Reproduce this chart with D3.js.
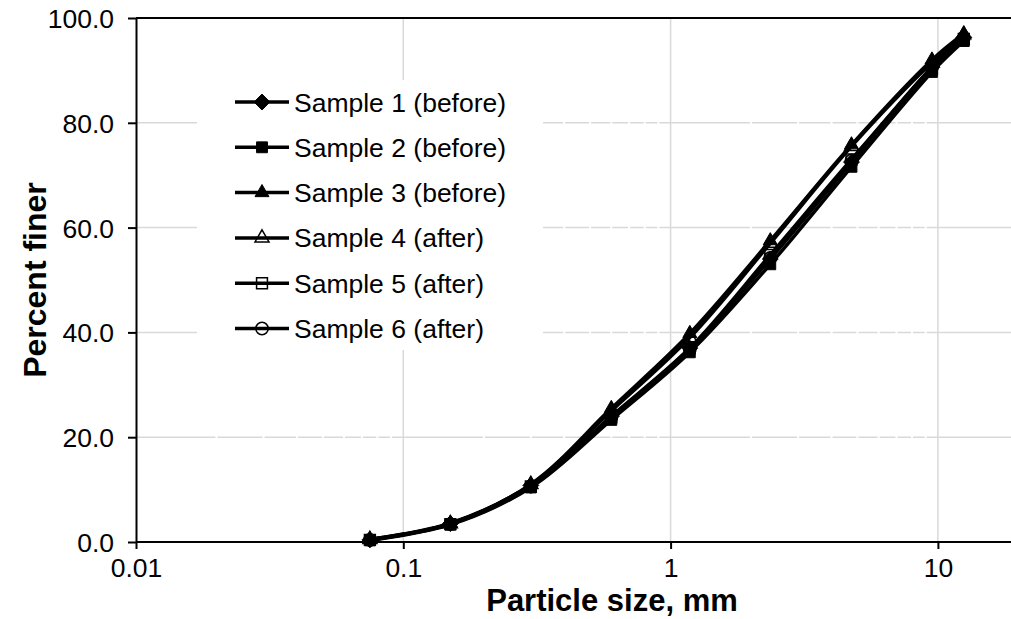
<!DOCTYPE html>
<html>
<head>
<meta charset="utf-8">
<script src="https://cdn.jsdelivr.net/npm/d3@7"></script>
<style>
  html, body { margin: 0; padding: 0; background: #fff; }
  svg { display: block; font-family: "Liberation Sans", Arial, sans-serif; }
</style>
</head>
<body>
<svg id="chart" width="1011" height="619"></svg>
<script>
// sieve sizes (mm) and percent finer per sample
const sizes = [0.075, 0.15, 0.3, 0.6, 1.18, 2.36, 4.75, 9.5, 12.5];
const sample1 = [0.4, 3.5, 10.8, 24.0, 37.0, 54.0, 72.5, 90.6, 96.3];
const sample2 = [0.3, 3.3, 10.4, 23.3, 36.2, 53.0, 71.6, 89.7, 95.6];
const sample3 = [0.5, 3.6, 11.0, 25.5, 39.8, 57.5, 75.8, 92.0, 97.0];
const sample4 = [0.5, 3.5, 11.0, 25.0, 39.0, 57.0, 75.5, 91.5, 96.8];
const sample5 = [0.4, 3.4, 10.6, 23.8, 37.0, 54.8, 73.0, 90.3, 96.0];
const sample6 = [0.4, 3.4, 10.6, 23.7, 36.8, 54.2, 72.8, 90.6, 96.2];
const seriesNames = ["Sample 1 (before)", "Sample 2 (before)", "Sample 3 (before)",
                     "Sample 4 (after)", "Sample 5 (after)", "Sample 6 (after)"];
const markers = ["diamond", "square", "triangle", "triangle", "square", "circle"];
const filled = [true, true, true, false, false, false];
const xTicks = [0.01, 0.1, 1, 10];
const yTicks = [0, 20, 40, 60, 80, 100];

const series = [sample1, sample2, sample3, sample4, sample5, sample6].map((v, i) => ({
  name: seriesNames[i], marker: markers[i], filled: filled[i],
  values: v.map((p, j) => ({x: sizes[j], y: p}))
}));

const svg = d3.select("#chart");
const plotLeft = 136, plotTop = 18, plotBottom = 542;

// axis runs 0.01 .. 100, the right part falls outside the picture
const x = d3.scaleLog().domain([0.01, 100]).range([plotLeft, plotLeft + 4 * 267.3]);
const y = d3.scaleLinear().domain([0, 100]).range([plotBottom, plotTop]);

const grid = svg.append("g");
// horizontal gridlines
grid.selectAll(".hg").data(yTicks.filter(d => d > 0 && d < 100)).enter().append("line")
  .attr("x1", plotLeft).attr("x2", 1011)
  .attr("y1", d => y(d)).attr("y2", d => y(d))
  .attr("stroke", "#d9d9d9").attr("stroke-width", 1.5);
// minor vertical gridlines (white, break the horizontal ones)
const minors = [];
[0.01, 0.1, 1, 10].forEach(b => { for (let k = 2; k <= 9; k++) minors.push(b * k); });
grid.selectAll(".mg").data(minors).enter().append("line")
  .attr("x1", d => x(d)).attr("x2", d => x(d))
  .attr("y1", plotTop).attr("y2", plotBottom)
  .attr("stroke", "#fff").attr("stroke-width", 2);
// major vertical gridlines
grid.selectAll(".vg").data(xTicks.filter(d => d > 0.01)).enter().append("line")
  .attr("x1", d => x(d)).attr("x2", d => x(d))
  .attr("y1", plotTop).attr("y2", plotBottom)
  .attr("stroke", "#d9d9d9").attr("stroke-width", 1.5);

// top border
svg.append("line").attr("x1", plotLeft).attr("x2", 1011).attr("y1", plotTop).attr("y2", plotTop)
  .attr("stroke", "#000").attr("stroke-width", 2);

// axes
const xAxis = svg.append("g").attr("transform", `translate(0,${plotBottom})`)
  .call(d3.axisBottom(x).tickValues(xTicks).tickFormat(d3.format("~g")).tickSize(7).tickSizeOuter(0));
const yAxis = svg.append("g").attr("transform", `translate(${plotLeft},0)`)
  .call(d3.axisLeft(y).tickValues(yTicks).tickFormat(d3.format(".1f")).tickSize(8).tickSizeOuter(0));
xAxis.select(".domain").attr("d", `M${plotLeft},0H1011`);
[xAxis, yAxis].forEach(a => {
  a.select(".domain").attr("stroke", "#000").attr("stroke-width", 2);
  a.selectAll(".tick line").attr("stroke", "#000").attr("stroke-width", 2);
  a.selectAll(".tick text").attr("fill", "#000").attr("font-size", 26.5)
    .attr("font-family", "Liberation Sans, Arial, sans-serif");
});
xAxis.selectAll(".tick text").attr("y", 8).attr("dy", "1.0em");
yAxis.selectAll(".tick text").attr("x", -22).attr("dy", "0.36em");

// axis titles
svg.append("text").attr("x", 612).attr("y", 611).attr("text-anchor", "middle")
  .attr("font-size", 31).attr("font-weight", "bold").text("Particle size, mm");
svg.append("text").attr("transform", `translate(46,280) rotate(-90)`).attr("text-anchor", "middle")
  .attr("font-size", 32).attr("font-weight", "bold").text("Percent finer");

// marker symbols
const symType = {diamond: d3.symbolDiamond2, square: d3.symbolSquare2, triangle: d3.symbolTriangle2, circle: d3.symbolCircle};
const symSize = {diamond: 160, square: 150, triangle: 140, circle: 120};
function drawMarker(g, s, cx, cy) {
  g.append("path")
    .attr("d", d3.symbol().type(symType[s.marker]).size(symSize[s.marker])())
    .attr("transform", `translate(${cx},${cy})`)
    .attr("fill", s.filled ? "#000" : "none")
    .attr("stroke", "#000").attr("stroke-width", s.filled ? 1 : 1.5);
}

const line = d3.line().x(d => x(d.x)).y(d => y(d.y)).curve(d3.curveCatmullRom.alpha(0.5));
const plot = svg.append("g");
series.forEach(s => {
  plot.append("path").attr("d", line(s.values))
    .attr("fill", "none").attr("stroke", "#000").attr("stroke-width", 3.5);
  const g = plot.append("g");
  s.values.forEach(d => drawMarker(g, s, x(d.x), y(d.y)));
});

// legend
const legend = svg.append("g");
legend.append("rect").attr("x", 197).attr("y", 80).attr("width", 346).attr("height", 270).attr("fill", "#fff");
series.forEach((s, i) => {
  const ly = 102 + i * 45.3;
  const g = legend.append("g");
  g.append("line").attr("x1", 235).attr("x2", 289).attr("y1", ly).attr("y2", ly)
    .attr("stroke", "#000").attr("stroke-width", 3.5);
  drawMarker(g, s, 262, ly);
  g.append("text").attr("x", 294).attr("y", ly).attr("dy", "0.36em")
    .attr("font-size", 26.5).attr("fill", "#000").text(s.name);
});
</script>
</body>
</html>
